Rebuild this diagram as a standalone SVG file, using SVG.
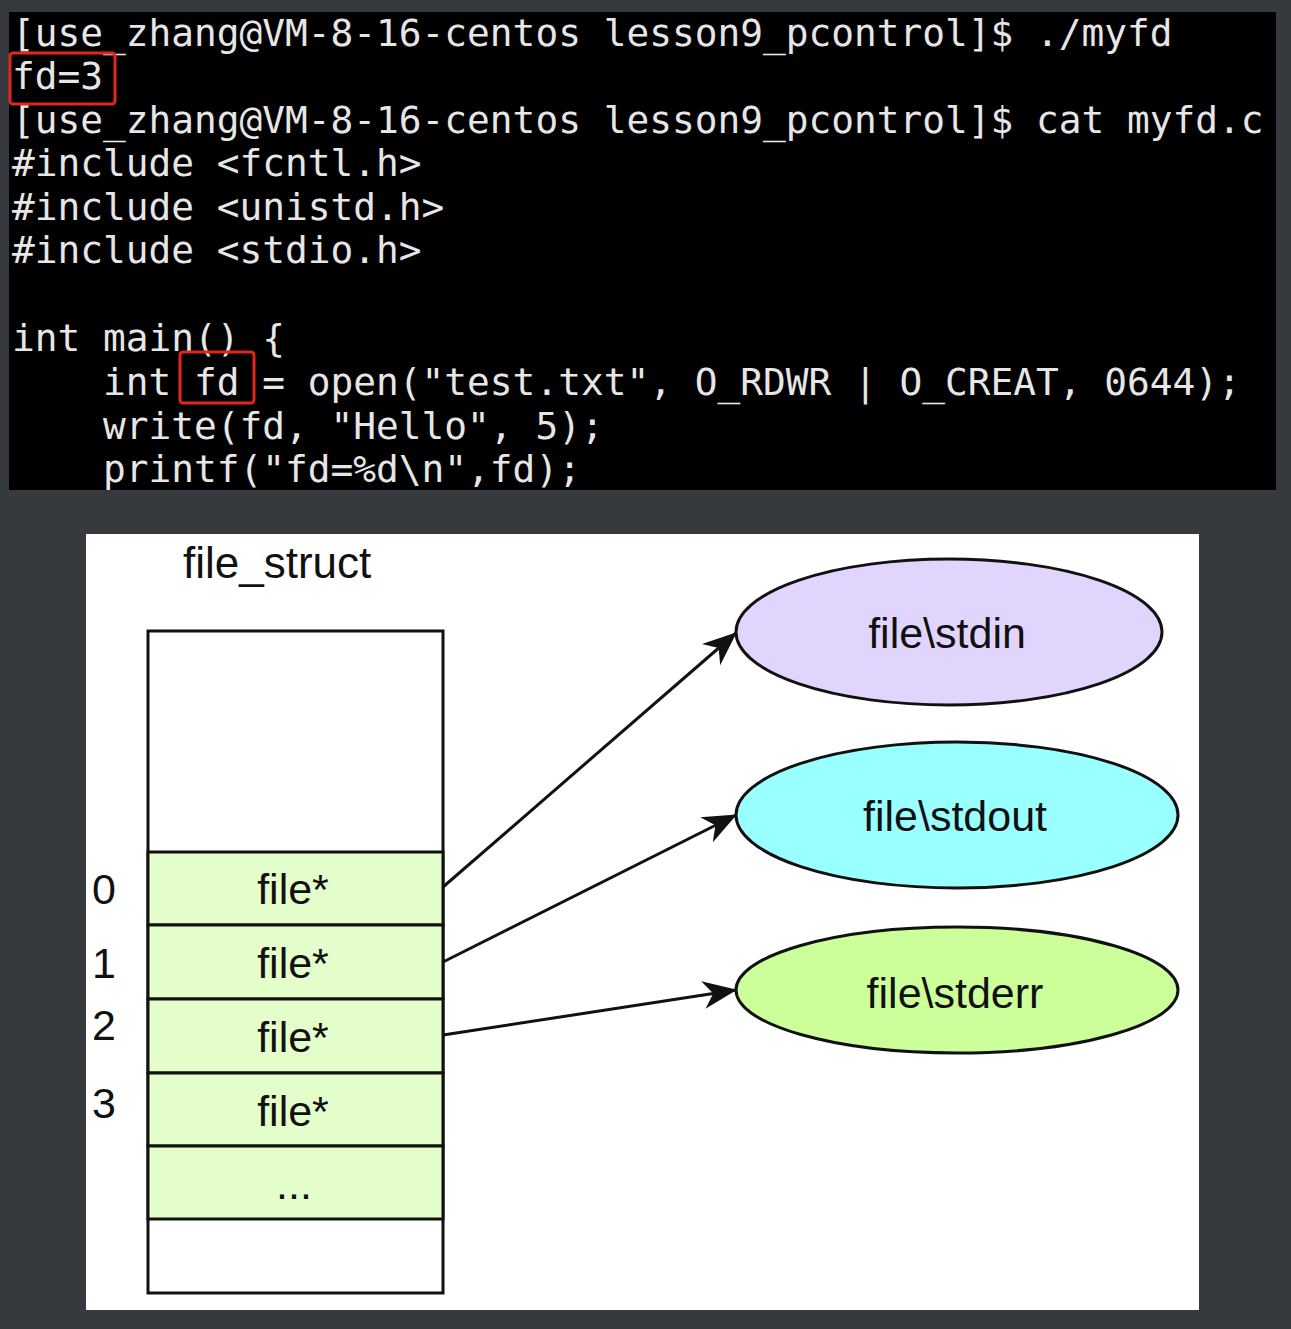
<svg xmlns="http://www.w3.org/2000/svg" width="1291" height="1329" viewBox="0 0 1291 1329">
<style>
.term{font-family:"DejaVu Sans Mono","Liberation Mono",monospace;font-size:37.8px;fill:#e6e6e6;white-space:pre}
.hl{fill:none;stroke:#e3261c;stroke-width:3}
.lbl{font-family:"Liberation Sans",Arial,sans-serif;font-size:43px;fill:#111}
.cell{fill:#e3fdcb;stroke:#111;stroke-width:3}
.blank{fill:#fff;stroke:#111;stroke-width:3}
.ell{stroke:#111;stroke-width:3}
.edge{fill:none;stroke:#111;stroke-width:3;marker-end:url(#arr)}
</style>
<defs>
<marker id="arr" viewBox="0 0 34 28" refX="33" refY="14" markerWidth="34" markerHeight="28" markerUnits="userSpaceOnUse" orient="auto">
<path d="M0,0 L34,14 L0,28 L10,14 z" fill="#111"/>
</marker>
</defs>
<rect x="0" y="0" width="1291" height="1329" fill="#36393d"/>
<g id="terminal">
<rect x="9" y="12" width="1267" height="478" fill="#000"/>
<text class="term" xml:space="preserve" x="12" y="46">[use_zhang@VM-8-16-centos lesson9_pcontrol]$ ./myfd</text>
<text class="term" xml:space="preserve" x="12" y="89">fd=3</text>
<text class="term" xml:space="preserve" x="12" y="133">[use_zhang@VM-8-16-centos lesson9_pcontrol]$ cat myfd.c</text>
<text class="term" xml:space="preserve" x="12" y="176">#include &lt;fcntl.h&gt;</text>
<text class="term" xml:space="preserve" x="12" y="220">#include &lt;unistd.h&gt;</text>
<text class="term" xml:space="preserve" x="12" y="263">#include &lt;stdio.h&gt;</text>
<text class="term" xml:space="preserve" x="12" y="351">int main() {</text>
<text class="term" xml:space="preserve" x="12" y="395">    int fd = open("test.txt", O_RDWR | O_CREAT, 0644);</text>
<text class="term" xml:space="preserve" x="12" y="439">    write(fd, "Hello", 5);</text>
<text class="term" xml:space="preserve" x="12" y="482">    printf("fd=%d\n",fd);</text>
<rect class="hl" x="10" y="53" width="105" height="51" rx="3"/>
<rect class="hl" x="180" y="352" width="74" height="51" rx="3"/>
</g>
<rect x="86" y="534" width="1113" height="776" fill="#fff"/>
<g id="file_struct">
<text class="lbl" x="183" y="578" style="font-size:44px">file_struct</text>
<rect class="blank" x="148" y="631" width="295" height="662"/>
<rect class="cell" x="148" y="852" width="295" height="73"/>
<rect class="cell" x="148" y="925" width="295" height="74"/>
<rect class="cell" x="148" y="999" width="295" height="74"/>
<rect class="cell" x="148" y="1073" width="295" height="73"/>
<rect class="cell" x="148" y="1146" width="295" height="73"/>
<g class="lbl" text-anchor="middle">
<text x="293" y="904">file*</text>
<text x="293" y="978">file*</text>
<text x="293" y="1052">file*</text>
<text x="293" y="1126">file*</text>
<text x="294" y="1199">...</text>
</g>
<g class="lbl">
<text x="92" y="904">0</text>
<text x="92" y="978">1</text>
<text x="92" y="1040">2</text>
<text x="92" y="1118">3</text>
</g>
</g>
<g id="stdin">
<ellipse class="ell" cx="949" cy="632" rx="213" ry="73" fill="#e2d5fd"/>
<text class="lbl" x="947" y="648" text-anchor="middle">file\stdin</text>
</g>
<g id="stdout">
<ellipse class="ell" cx="957" cy="815" rx="221" ry="73" fill="#99ffff"/>
<text class="lbl" x="955" y="831" text-anchor="middle">file\stdout</text>
</g>
<g id="stderr">
<ellipse class="ell" cx="957" cy="990" rx="221" ry="63" fill="#ccff99"/>
<text class="lbl" x="955" y="1008" text-anchor="middle">file\stderr</text>
</g>
<g id="connectors">
<path class="edge" d="M443,887 L736,633"/>
<path class="edge" d="M443,962 L736,815"/>
<path class="edge" d="M443,1035 L736,990"/>
</g>
</svg>
